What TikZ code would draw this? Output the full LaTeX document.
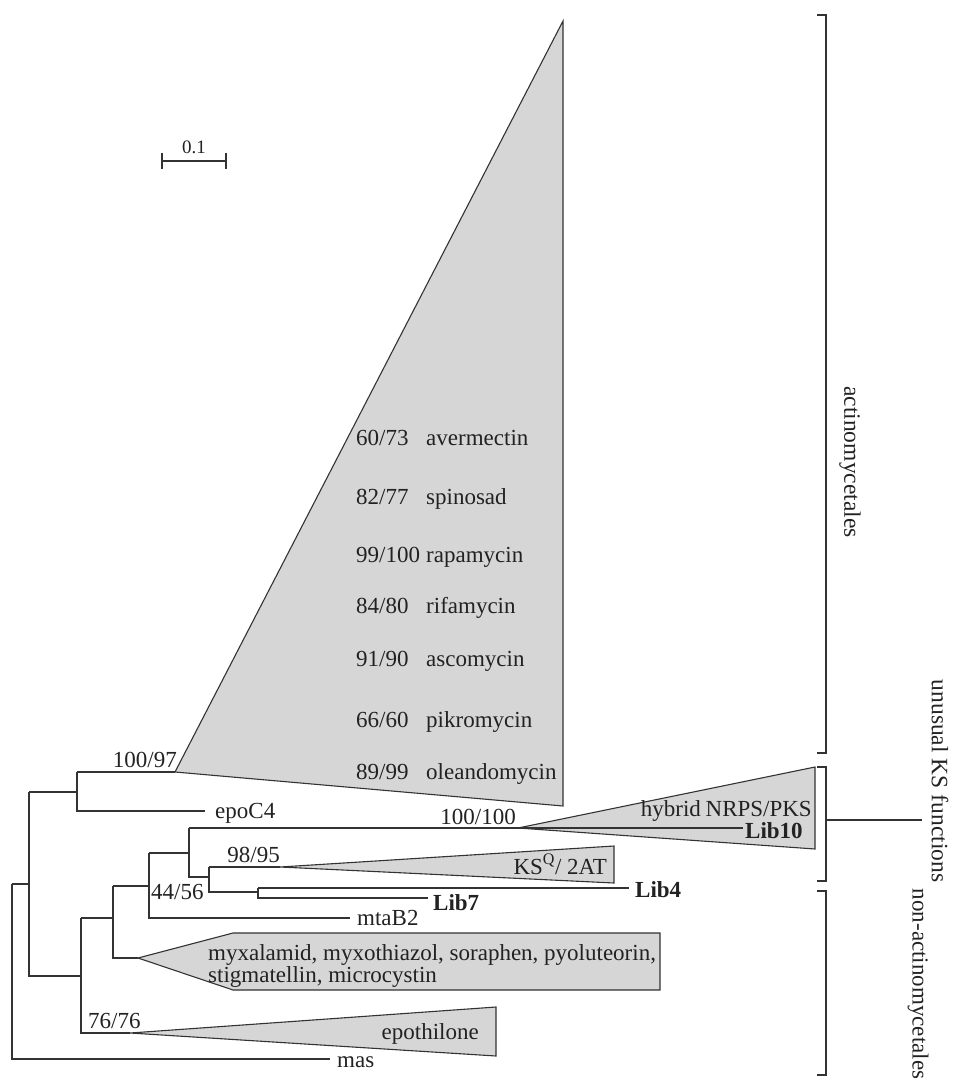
\documentclass[tikz,border=0pt]{standalone}
\usepackage{fontspec}
\setmainfont{Liberation Serif}
\definecolor{linec}{HTML}{333333}
\definecolor{clade}{HTML}{D6D6D6}
\definecolor{txt}{HTML}{222222}
\begin{document}
\begin{tikzpicture}[x=1pt,y=-1pt,line join=miter,
  branch/.style={draw=linec,line width=1.1pt},
  clademark/.style={draw=linec,fill=clade,line width=1.1pt},
  brack/.style={draw=linec,line width=1.8pt},
  lab/.style={font=\fontsize{23}{22}\selectfont,text=txt,inner sep=0pt},
  boldlab/.style={font=\fontsize{23}{22}\selectfont\bfseries,text=txt,inner sep=0pt},
  sidelab/.style={font=\fontsize{23.5}{22}\selectfont,text=txt,inner sep=0pt,rotate=-90}]
\useasboundingbox (0,0) rectangle (957,1083);
% ---- coordinates of tree
\coordinate (R1) at (12,884);
\coordinate (R2) at (12,1059);
\coordinate (masE) at (330,1059);
\coordinate (A1) at (29,792);
\coordinate (A2) at (29,976);
\coordinate (B1) at (77,772);
\coordinate (B2) at (77,811);
\coordinate (actA) at (175,772);
\coordinate (actT) at (563,21);
\coordinate (actB) at (563,806);
\coordinate (epoE) at (205,811);
\coordinate (C1) at (189,828);
\coordinate (C2) at (189,877);
\coordinate (hybA) at (518,828);
\coordinate (hybT) at (815,767);
\coordinate (hybB) at (815,849);
\coordinate (l10E) at (743,828);
\coordinate (D1) at (209,867);
\coordinate (D2) at (209,892);
\coordinate (ksA) at (280,867);
\coordinate (ksT) at (614,846);
\coordinate (ksB) at (614,883);
\coordinate (E1) at (258,888);
\coordinate (E2) at (258,898);
\coordinate (l4E) at (629,888);
\coordinate (l7E) at (428,898);
\coordinate (F1) at (149,853);
\coordinate (F2) at (149,918);
\coordinate (mtaE) at (350,918);
\coordinate (G1) at (113,886);
\coordinate (G2) at (113,958);
\coordinate (myxA) at (138,958);
\coordinate (H1) at (81,918);
\coordinate (H2) at (81,1033);
\coordinate (epoA) at (130,1033);
% ---- clades
\draw[clademark] (actA) -- (actT) -- (actB) -- cycle;
\draw[clademark] (hybA) -- (hybT) -- (hybB) -- cycle;
\draw[clademark] (ksA) -- (ksT) -- (ksB) -- cycle;
\draw[clademark] (myxA) -- (233,933) -- (660,933) -- (660,990) -- (233,990) -- cycle;
\draw[clademark] (epoA) -- (496,1007) -- (496,1056) -- cycle;
% ---- branches
\draw[branch] (R1) -- (R2) -- (masE);
\draw[branch] (R1) -- (R1 -| A1);
\draw[branch] (A1) -- (A2) -- (A2 -| H1);
\draw[branch] (A1) -- (B1 |- A1);
\draw[branch] (B1) -- (actA);
\draw[branch] (B1) -- (B2) -- (epoE);
\draw[branch] (H1) -- (H2) -- (epoA);
\draw[branch] (H1) -- (H1 -| G1);
\draw[branch] (G1) -- (G2) -- (myxA);
\draw[branch] (G1) -- (G1 -| F1);
\draw[branch] (F1) -- (F2) -- (mtaE);
\draw[branch] (F1) -- (F1 -| C1);
\draw[branch] (C1) -- (C2) -- (C2 -| D1);
\draw[branch] (C1) -- (hybA) -- (l10E);
\draw[branch] (D1) -- (D2) -- (D2 -| E1);
\draw[branch] (D1) -- (ksA);
\draw[branch] (E1) -- (E2) -- (l7E);
\draw[branch] (E1) -- (l4E);
% ---- leaf labels
\node[lab,anchor=base west] (mas) at (337,1067) {mas};
\node[lab,anchor=base west] (epoC4) at (215,818) {epoC4};
\node[lab,anchor=base west] (mtaB2) at (357,925) {mtaB2};
\node[boldlab,anchor=base west] (lib10) at (745,838) {Lib10};
\node[boldlab,anchor=base west] (lib4) at (635,897) {Lib4};
\node[boldlab,anchor=base west] (lib7) at (433,910) {Lib7};
\node[lab,anchor=base east] (hyb) at (812,816) {hybrid\hspace{-1pt} NRPS/PKS};
\node[lab,anchor=base east] (ksq) at (607,874) {KS\textsuperscript{Q}/ 2AT};
\node[lab,anchor=base east] (epoth) at (479,1039) {epothilone};
\node[lab,anchor=base west] (myx1) at (208,960) {myxalamid, myxothiazol, soraphen, pyoluteorin,};
\node[lab,anchor=base west] (myx2) at (208,982) {stigmatellin, microcystin};
% ---- support values
\node[lab,anchor=base east] (s1) at (177,767) {100/97};
\node[lab,anchor=base east] (s2) at (516,824) {100/100};
\node[lab,anchor=base east] (s3) at (280,862) {98/95};
\node[lab,anchor=base west] (s4) at (151,899) {44/56};
\node[lab,anchor=base west] (s5) at (88,1028) {76/76};
% ---- actinomycetales clade contents
\foreach \n/\v/\y/\nm in {a/60\slash 73/445/avermectin, b/82\slash 77/504/spinosad, c/99\slash 100/562/rapamycin, d/84\slash 80/613/rifamycin, e/91\slash 90/666/ascomycin, f/66\slash 60/727/pikromycin, g/89\slash 99/779/oleandomycin}{
  \node[lab,anchor=base west] (v\n) at (356,\y) {\v};
  \node[lab,anchor=base west] (t\n) at (426,\y) {\nm};
}
% ---- scale bar
\coordinate (sb1) at (162,161);
\coordinate (sb2) at (226,161);
\draw[branch] (sb1) -- (sb2);
\draw[branch] ([yshift=-8]sb1) -- ([yshift=8]sb1);
\draw[branch] ([yshift=-8]sb2) -- ([yshift=8]sb2);
\node[font=\fontsize{19}{19}\selectfont,text=txt,inner sep=0pt,anchor=base] (sbl) at (194,154) {0.1};
% ---- brackets
\draw[brack] (817,15) -- (826,15) -- (826,753) -- (817,753);
\draw[brack] (817,767) -- (826,767) -- (826,881) -- (817,881);
\coordinate (ubr) at (826,820);
\coordinate (uend) at (922,820);
\draw[brack] (ubr) -- (uend);
\draw[brack] (817,891) -- (826,891) -- (826,1075) -- (817,1075);
\node[sidelab] (actlab) at (850,462) {actinomycetales};
\node[sidelab] (unlab) at (940,781) {unusual KS functions};
\node[sidelab,font=\fontsize{23}{22}\selectfont] (nonlab) at (918,984) {non-actinomycetales};
\end{tikzpicture}
\end{document}
